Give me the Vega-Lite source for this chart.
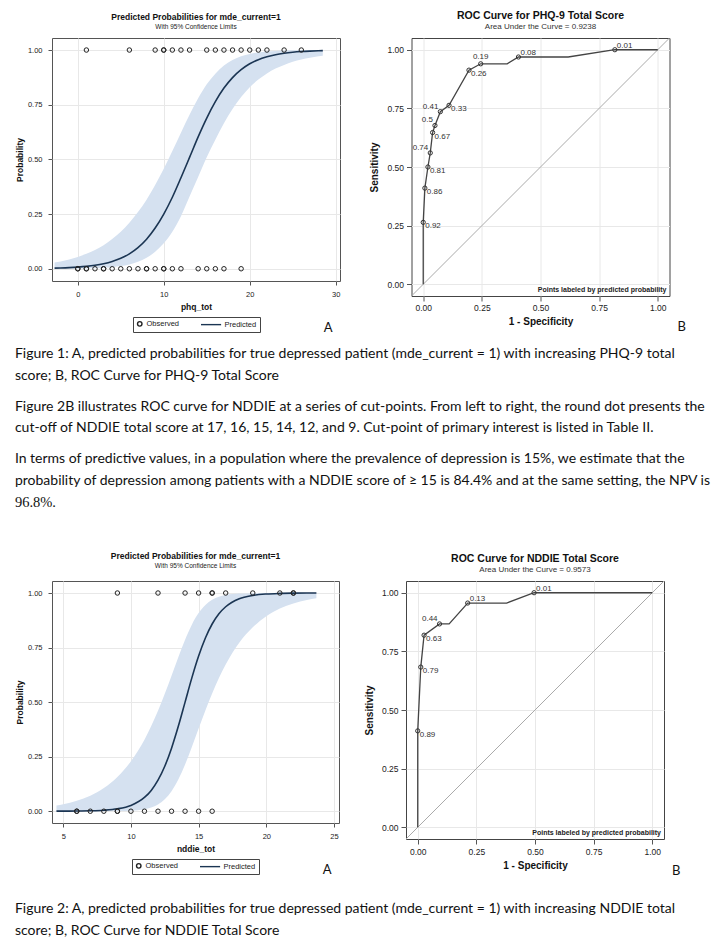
{
  "$schema": "https://vega.github.io/schema/vega-lite/v6.json",
  "background": "white",
  "padding": {"left": 14, "top": 10, "right": 5, "bottom": 0},
  "config": {
    "view": {"stroke": null},
    "font": "Liberation Sans",
    "legend": {"layout": {"bottom": {"anchor": "middle"}}},
    "axis": {"domain": false, "grid": true, "gridColor": "#e8e8e8", "gridWidth": 1, "tickColor": "#555", "tickSize": 5, "labelFont": "Liberation Sans", "labelFontSize": 8.5, "labelColor": "#222", "titleFont": "Liberation Sans", "titleFontSize": 10, "titleFontWeight": "bold", "titleColor": "#111", "labelPadding": 3, "titlePadding": 6}
  },
  "datasets": {
    "curve1": [
      {"phq_tot": -2.7, "pred": 0.0027, "lcl": 0.00025, "ucl": 0.029},
      {"phq_tot": -2, "pred": 0.0035, "lcl": 0.00036, "ucl": 0.0336},
      {"phq_tot": -1, "pred": 0.0051, "lcl": 0.0006, "ucl": 0.0425},
      {"phq_tot": 0, "pred": 0.0075, "lcl": 0.001, "ucl": 0.0539},
      {"phq_tot": 1, "pred": 0.0109, "lcl": 0.0017, "ucl": 0.0681},
      {"phq_tot": 2, "pred": 0.0158, "lcl": 0.0027, "ucl": 0.086},
      {"phq_tot": 3, "pred": 0.0229, "lcl": 0.0045, "ucl": 0.108},
      {"phq_tot": 4, "pred": 0.0332, "lcl": 0.0074, "ucl": 0.1355},
      {"phq_tot": 5, "pred": 0.0477, "lcl": 0.0122, "ucl": 0.169},
      {"phq_tot": 6, "pred": 0.0682, "lcl": 0.0197, "ucl": 0.21},
      {"phq_tot": 7, "pred": 0.0966, "lcl": 0.0317, "ucl": 0.259},
      {"phq_tot": 8, "pred": 0.135, "lcl": 0.05, "ucl": 0.316},
      {"phq_tot": 9, "pred": 0.186, "lcl": 0.0774, "ucl": 0.383},
      {"phq_tot": 10, "pred": 0.25, "lcl": 0.1164, "ucl": 0.457},
      {"phq_tot": 11, "pred": 0.327, "lcl": 0.169, "ucl": 0.538},
      {"phq_tot": 12, "pred": 0.416, "lcl": 0.24, "ucl": 0.622},
      {"phq_tot": 13, "pred": 0.509, "lcl": 0.33, "ucl": 0.704},
      {"phq_tot": 14, "pred": 0.603, "lcl": 0.42, "ucl": 0.779},
      {"phq_tot": 15, "pred": 0.689, "lcl": 0.51, "ucl": 0.843},
      {"phq_tot": 16, "pred": 0.764, "lcl": 0.59, "ucl": 0.892},
      {"phq_tot": 17, "pred": 0.826, "lcl": 0.665, "ucl": 0.929},
      {"phq_tot": 18, "pred": 0.874, "lcl": 0.73, "ucl": 0.954},
      {"phq_tot": 19, "pred": 0.91, "lcl": 0.785, "ucl": 0.971},
      {"phq_tot": 20, "pred": 0.937, "lcl": 0.83, "ucl": 0.982},
      {"phq_tot": 21, "pred": 0.956, "lcl": 0.865, "ucl": 0.989},
      {"phq_tot": 22, "pred": 0.969, "lcl": 0.893, "ucl": 0.9932},
      {"phq_tot": 23, "pred": 0.9787, "lcl": 0.915, "ucl": 0.9959},
      {"phq_tot": 24, "pred": 0.9853, "lcl": 0.932, "ucl": 0.9975},
      {"phq_tot": 25, "pred": 0.9899, "lcl": 0.946, "ucl": 0.9985},
      {"phq_tot": 26, "pred": 0.9931, "lcl": 0.957, "ucl": 0.9991},
      {"phq_tot": 27, "pred": 0.9952, "lcl": 0.965, "ucl": 0.9994},
      {"phq_tot": 28, "pred": 0.9967, "lcl": 0.971, "ucl": 0.9997},
      {"phq_tot": 28.5, "pred": 0.9973, "lcl": 0.974, "ucl": 0.9997}
    ],
    "obs1": [
      {"phq_tot": 1, "mde_current": 1, "series": "Observed"},
      {"phq_tot": 6, "mde_current": 1, "series": "Observed"},
      {"phq_tot": 9, "mde_current": 1, "series": "Observed"},
      {"phq_tot": 10, "mde_current": 1, "series": "Observed"},
      {"phq_tot": 10, "mde_current": 1, "series": "Observed"},
      {"phq_tot": 11, "mde_current": 1, "series": "Observed"},
      {"phq_tot": 12, "mde_current": 1, "series": "Observed"},
      {"phq_tot": 13, "mde_current": 1, "series": "Observed"},
      {"phq_tot": 15, "mde_current": 1, "series": "Observed"},
      {"phq_tot": 16, "mde_current": 1, "series": "Observed"},
      {"phq_tot": 17, "mde_current": 1, "series": "Observed"},
      {"phq_tot": 18, "mde_current": 1, "series": "Observed"},
      {"phq_tot": 19, "mde_current": 1, "series": "Observed"},
      {"phq_tot": 20, "mde_current": 1, "series": "Observed"},
      {"phq_tot": 21, "mde_current": 1, "series": "Observed"},
      {"phq_tot": 22, "mde_current": 1, "series": "Observed"},
      {"phq_tot": 24, "mde_current": 1, "series": "Observed"},
      {"phq_tot": 26, "mde_current": 1, "series": "Observed"},
      {"phq_tot": 0, "mde_current": 0, "series": "Observed"},
      {"phq_tot": 0, "mde_current": 0, "series": "Observed"},
      {"phq_tot": 1, "mde_current": 0, "series": "Observed"},
      {"phq_tot": 1, "mde_current": 0, "series": "Observed"},
      {"phq_tot": 2, "mde_current": 0, "series": "Observed"},
      {"phq_tot": 3, "mde_current": 0, "series": "Observed"},
      {"phq_tot": 3, "mde_current": 0, "series": "Observed"},
      {"phq_tot": 4, "mde_current": 0, "series": "Observed"},
      {"phq_tot": 5, "mde_current": 0, "series": "Observed"},
      {"phq_tot": 6, "mde_current": 0, "series": "Observed"},
      {"phq_tot": 7, "mde_current": 0, "series": "Observed"},
      {"phq_tot": 8, "mde_current": 0, "series": "Observed"},
      {"phq_tot": 8, "mde_current": 0, "series": "Observed"},
      {"phq_tot": 9, "mde_current": 0, "series": "Observed"},
      {"phq_tot": 10, "mde_current": 0, "series": "Observed"},
      {"phq_tot": 10, "mde_current": 0, "series": "Observed"},
      {"phq_tot": 11, "mde_current": 0, "series": "Observed"},
      {"phq_tot": 12, "mde_current": 0, "series": "Observed"},
      {"phq_tot": 14, "mde_current": 0, "series": "Observed"},
      {"phq_tot": 15, "mde_current": 0, "series": "Observed"},
      {"phq_tot": 16, "mde_current": 0, "series": "Observed"},
      {"phq_tot": 17, "mde_current": 0, "series": "Observed"},
      {"phq_tot": 19, "mde_current": 0, "series": "Observed"}
    ],
    "curve2": [
      {"nddie_tot": 4.5, "pred": 0.0002, "lcl": 0.0, "ucl": 0.0259},
      {"nddie_tot": 5, "pred": 0.0003, "lcl": 0.0, "ucl": 0.0318},
      {"nddie_tot": 6, "pred": 0.0007, "lcl": 0.00001, "ucl": 0.0477},
      {"nddie_tot": 7, "pred": 0.0018, "lcl": 0.00004, "ucl": 0.0714},
      {"nddie_tot": 8, "pred": 0.0045, "lcl": 0.0002, "ucl": 0.106},
      {"nddie_tot": 9, "pred": 0.011, "lcl": 0.0007, "ucl": 0.157},
      {"nddie_tot": 10, "pred": 0.0266, "lcl": 0.0025, "ucl": 0.229},
      {"nddie_tot": 11, "pred": 0.063, "lcl": 0.0091, "ucl": 0.328},
      {"nddie_tot": 11.5, "pred": 0.0953, "lcl": 0.0171, "ucl": 0.39},
      {"nddie_tot": 12, "pred": 0.142, "lcl": 0.0311, "ucl": 0.46},
      {"nddie_tot": 12.5, "pred": 0.206, "lcl": 0.0546, "ucl": 0.538},
      {"nddie_tot": 13, "pred": 0.289, "lcl": 0.0917, "ucl": 0.621},
      {"nddie_tot": 13.5, "pred": 0.389, "lcl": 0.145, "ucl": 0.706},
      {"nddie_tot": 14, "pred": 0.5, "lcl": 0.214, "ucl": 0.786},
      {"nddie_tot": 14.5, "pred": 0.611, "lcl": 0.294, "ucl": 0.855},
      {"nddie_tot": 15, "pred": 0.711, "lcl": 0.379, "ucl": 0.908},
      {"nddie_tot": 15.5, "pred": 0.794, "lcl": 0.462, "ucl": 0.945},
      {"nddie_tot": 16, "pred": 0.858, "lcl": 0.54, "ucl": 0.969},
      {"nddie_tot": 16.5, "pred": 0.905, "lcl": 0.61, "ucl": 0.983},
      {"nddie_tot": 17, "pred": 0.937, "lcl": 0.672, "ucl": 0.991},
      {"nddie_tot": 18, "pred": 0.974, "lcl": 0.772, "ucl": 0.9975},
      {"nddie_tot": 19, "pred": 0.989, "lcl": 0.843, "ucl": 0.9993},
      {"nddie_tot": 20, "pred": 0.9955, "lcl": 0.894, "ucl": 0.9998},
      {"nddie_tot": 21, "pred": 0.9982, "lcl": 0.929, "ucl": 1.0},
      {"nddie_tot": 22, "pred": 0.9993, "lcl": 0.952, "ucl": 1.0},
      {"nddie_tot": 23, "pred": 0.9997, "lcl": 0.968, "ucl": 1.0},
      {"nddie_tot": 23.7, "pred": 0.9998, "lcl": 0.976, "ucl": 1.0}
    ],
    "obs2": [
      {"nddie_tot": 9, "mde_current": 1, "series": "Observed"},
      {"nddie_tot": 12, "mde_current": 1, "series": "Observed"},
      {"nddie_tot": 14, "mde_current": 1, "series": "Observed"},
      {"nddie_tot": 15, "mde_current": 1, "series": "Observed"},
      {"nddie_tot": 16, "mde_current": 1, "series": "Observed"},
      {"nddie_tot": 16, "mde_current": 1, "series": "Observed"},
      {"nddie_tot": 17, "mde_current": 1, "series": "Observed"},
      {"nddie_tot": 19, "mde_current": 1, "series": "Observed"},
      {"nddie_tot": 21, "mde_current": 1, "series": "Observed"},
      {"nddie_tot": 22, "mde_current": 1, "series": "Observed"},
      {"nddie_tot": 22, "mde_current": 1, "series": "Observed"},
      {"nddie_tot": 6, "mde_current": 0, "series": "Observed"},
      {"nddie_tot": 6, "mde_current": 0, "series": "Observed"},
      {"nddie_tot": 7, "mde_current": 0, "series": "Observed"},
      {"nddie_tot": 8, "mde_current": 0, "series": "Observed"},
      {"nddie_tot": 9, "mde_current": 0, "series": "Observed"},
      {"nddie_tot": 9, "mde_current": 0, "series": "Observed"},
      {"nddie_tot": 10, "mde_current": 0, "series": "Observed"},
      {"nddie_tot": 11, "mde_current": 0, "series": "Observed"},
      {"nddie_tot": 12, "mde_current": 0, "series": "Observed"},
      {"nddie_tot": 13, "mde_current": 0, "series": "Observed"},
      {"nddie_tot": 14, "mde_current": 0, "series": "Observed"},
      {"nddie_tot": 15, "mde_current": 0, "series": "Observed"},
      {"nddie_tot": 16, "mde_current": 0, "series": "Observed"}
    ],
    "roc1": [
      {"step": 0, "fpr": 0, "sens": 0, "cutoff": null},
      {"step": 1, "fpr": 0, "sens": 0.264, "cutoff": "0.92"},
      {"step": 2, "fpr": 0.007, "sens": 0.41, "cutoff": "0.86"},
      {"step": 3, "fpr": 0.02, "sens": 0.5, "cutoff": "0.81"},
      {"step": 4, "fpr": 0.03, "sens": 0.56, "cutoff": "0.74"},
      {"step": 5, "fpr": 0.04, "sens": 0.647, "cutoff": "0.67"},
      {"step": 6, "fpr": 0.05, "sens": 0.677, "cutoff": "0.5"},
      {"step": 7, "fpr": 0.073, "sens": 0.736, "cutoff": "0.41"},
      {"step": 8, "fpr": 0.11, "sens": 0.763, "cutoff": "0.33"},
      {"step": 9, "fpr": 0.195, "sens": 0.913, "cutoff": "0.26"},
      {"step": 10, "fpr": 0.245, "sens": 0.94, "cutoff": "0.19"},
      {"step": 11, "fpr": 0.358, "sens": 0.94, "cutoff": null},
      {"step": 12, "fpr": 0.406, "sens": 0.969, "cutoff": "0.08"},
      {"step": 13, "fpr": 0.618, "sens": 0.969, "cutoff": null},
      {"step": 14, "fpr": 0.817, "sens": 1.0, "cutoff": "0.01"},
      {"step": 15, "fpr": 1.0, "sens": 1.0, "cutoff": null}
    ],
    "roc2": [
      {"step": 0, "fpr": 0, "sens": 0, "cutoff": null},
      {"step": 1, "fpr": 0, "sens": 0.411, "cutoff": "0.89"},
      {"step": 2, "fpr": 0.013, "sens": 0.683, "cutoff": "0.79"},
      {"step": 3, "fpr": 0.027, "sens": 0.819, "cutoff": "0.63"},
      {"step": 4, "fpr": 0.093, "sens": 0.867, "cutoff": "0.44"},
      {"step": 5, "fpr": 0.134, "sens": 0.867, "cutoff": null},
      {"step": 6, "fpr": 0.213, "sens": 0.956, "cutoff": "0.13"},
      {"step": 7, "fpr": 0.379, "sens": 0.956, "cutoff": null},
      {"step": 8, "fpr": 0.496, "sens": 1.0, "cutoff": "0.01"},
      {"step": 9, "fpr": 1.0, "sens": 1.0, "cutoff": null}
    ],
    "diag": [
      {"fpr": -0.05, "sens": -0.05},
      {"fpr": 1.05, "sens": 1.05}
    ],
    "note": [{"note": "Points labeled by predicted probability"}]
  },
  "spacing": 41,
  "vconcat": [
    {
      "title": {"text": ["In terms of predictive values, in a population where the prevalence of depression is 15%, we estimate that the", "probability of depression among patients with a NDDIE score of ≥ 15 is 84.4% and at the same setting, the NPV is"], "subtitle": "96.8%.", "orient": "bottom", "anchor": "start", "frame": "bounds", "baseline": "top", "font": "Lato", "fontSize": 14, "fontWeight": "normal", "color": "#111", "lineHeight": 21.7, "offset": 17, "subtitleFont": "Liberation Serif", "subtitleFontSize": 14.5, "subtitleColor": "#111", "subtitlePadding": 8},
      "vconcat": [
        {
          "title": {"text": ["Figure 2B illustrates ROC curve for  NDDIE at a series of cut-points.  From left to right, the round dot presents the", "cut-off of NDDIE total score at 17, 16, 15, 14, 12, and 9.  Cut-point of primary interest is listed in Table II."], "orient": "bottom", "anchor": "start", "frame": "bounds", "baseline": "top", "font": "Lato", "fontSize": 14, "fontWeight": "normal", "color": "#111", "lineHeight": 21.7, "offset": 17},
          "vconcat": [
            {
              "title": {"text": [" Figure 1: A, predicted probabilities for true depressed patient (mde_current = 1) with increasing PHQ-9 total", "score; B, ROC Curve for PHQ-9 Total Score"], "orient": "bottom", "anchor": "start", "frame": "bounds", "baseline": "top", "font": "Lato", "fontSize": 14, "fontWeight": "normal", "color": "#111", "lineHeight": 21.7, "offset": 12},
              "spacing": 27.5,
              "hconcat": [
                {
                  "title": {"text": "A", "orient": "bottom", "anchor": "end", "font": "Lato", "fontSize": 13, "fontWeight": "normal", "color": "#111", "offset": -11, "dx": -8},
                  "resolve": {"scale": {"color": "independent", "shape": "independent"}, "legend": {"color": "independent", "shape": "independent"}},
                  "vconcat": [
                    {
                      "width": 288, "height": 243,
                      "view": {"stroke": "#555"},
                      "title": {"text": "Predicted Probabilities for mde_current=1", "subtitle": "With 95% Confidence Limits", "fontSize": 8.5, "fontWeight": "bold", "color": "#111", "subtitleFontSize": 6.5, "subtitleColor": "#222", "subtitlePadding": 2, "offset": 8},
                      "layer": [
                        {
                          "data": {"name": "curve1"},
                          "mark": {"type": "area", "color": "#d5e1f0", "opacity": 1, "interpolate": "monotone"},
                          "encoding": {
                            "x": {"field": "phq_tot", "type": "quantitative", "scale": {"domain": [-3, 30.5], "nice": false, "zero": false}, "axis": {"values": [0, 10, 20, 30], "title": "phq_tot", "labelFontSize": 7.5, "titleFontSize": 8.5, "tickSize": 4, "labelPadding": 5, "titlePadding": 5}},
                            "y": {"field": "lcl", "type": "quantitative", "scale": {"domain": [-0.056, 1.055], "nice": false, "zero": false}, "axis": {"values": [0, 0.25, 0.5, 0.75, 1], "format": ".2f", "title": "Probability", "labelFontSize": 7.5, "titleFontSize": 8.5, "tickSize": 4, "labelPadding": 6, "titlePadding": 3}},
                            "y2": {"field": "ucl"}
                          }
                        },
                        {
                          "data": {"name": "curve1"},
                          "mark": {"type": "line", "color": "#1b3553", "strokeWidth": 1.6, "interpolate": "monotone"},
                          "encoding": {
                            "x": {"field": "phq_tot", "type": "quantitative"},
                            "y": {"field": "pred", "type": "quantitative"}
                          }
                        },
                        {
                          "data": {"name": "obs1"},
                          "mark": {"type": "point", "filled": false, "size": 20, "strokeWidth": 1, "opacity": 1},
                          "encoding": {
                            "x": {"field": "phq_tot", "type": "quantitative"},
                            "y": {"field": "mde_current", "type": "quantitative"},
                            "shape": {"field": "series", "type": "nominal", "scale": {"domain": ["Observed", "Predicted"], "range": ["circle", "M-7.5,0H1.5"]}, "legend": {"orient": "bottom", "direction": "horizontal", "title": null, "strokeColor": "#444", "padding": 3, "labelFontSize": 7.5, "labelColor": "#222", "symbolStrokeWidth": 1.4, "symbolSize": 20, "columnPadding": 18, "offset": 6, "labelOffset": 3}},
                            "color": {"field": "series", "type": "nominal", "scale": {"domain": ["Observed", "Predicted"], "range": ["#222222", "#1b3553"]}, "legend": {"orient": "bottom", "direction": "horizontal", "title": null, "strokeColor": "#444", "padding": 3, "labelFontSize": 7.5, "labelColor": "#222", "symbolStrokeWidth": 1.4, "symbolSize": 20, "columnPadding": 18, "offset": 6, "labelOffset": 3}}
                          }
                        }
                      ]
                    }
                  ]
                },
                {
                  "title": {"text": "B", "orient": "bottom", "anchor": "end", "font": "Lato", "fontSize": 13, "fontWeight": "normal", "color": "#111", "offset": -6, "dx": 14},
                  "vconcat": [
                    {
                      "width": 258, "height": 258,
                      "view": {"stroke": "#444"},
                      "title": {"text": "ROC Curve for PHQ-9 Total Score", "subtitle": "Area Under the Curve = 0.9238", "fontSize": 10.5, "fontWeight": "bold", "color": "#111", "subtitleFontSize": 8, "subtitleColor": "#333", "subtitlePadding": 2, "offset": 5},
                      "layer": [
                        {
                          "data": {"name": "diag"},
                          "mark": {"type": "line", "color": "#aaaaaa", "strokeWidth": 1},
                          "encoding": {
                            "x": {"field": "fpr", "type": "quantitative", "scale": {"domain": [-0.05, 1.05], "nice": false, "zero": false}, "axis": {"values": [0, 0.25, 0.5, 0.75, 1], "format": ".2f", "title": "1 - Specificity", "labelPadding": 2, "titlePadding": 5}},
                            "y": {"field": "sens", "type": "quantitative", "scale": {"domain": [-0.05, 1.05], "nice": false, "zero": false}, "axis": {"values": [0, 0.25, 0.5, 0.75, 1], "format": ".2f", "title": "Sensitivity", "labelPadding": 3, "titlePadding": 7}}
                          }
                        },
                        {
                          "data": {"name": "roc1"},
                          "mark": {"type": "line", "color": "#444", "strokeWidth": 1.3},
                          "encoding": {"x": {"field": "fpr", "type": "quantitative"}, "y": {"field": "sens", "type": "quantitative"}, "order": {"field": "step"}}
                        },
                        {
                          "data": {"name": "roc1"},
                          "transform": [{"filter": "datum.cutoff != null"}],
                          "mark": {"type": "point", "filled": false, "size": 18, "color": "#333", "strokeWidth": 1, "opacity": 1},
                          "encoding": {"x": {"field": "fpr", "type": "quantitative"}, "y": {"field": "sens", "type": "quantitative"}}
                        },
                        {
                          "data": {"name": "roc1"},
                          "transform": [{"filter": {"field": "cutoff", "oneOf": ["0.92", "0.86", "0.81", "0.67", "0.33", "0.26"]}}],
                          "mark": {"type": "text", "align": "left", "baseline": "top", "dx": 2, "dy": 0, "fontSize": 8, "color": "#333"},
                          "encoding": {"x": {"field": "fpr", "type": "quantitative"}, "y": {"field": "sens", "type": "quantitative"}, "text": {"field": "cutoff"}}
                        },
                        {
                          "data": {"name": "roc1"},
                          "transform": [{"filter": {"field": "cutoff", "oneOf": ["0.74", "0.5", "0.41"]}}],
                          "mark": {"type": "text", "align": "right", "baseline": "bottom", "dx": -2, "dy": -1, "fontSize": 8, "color": "#333"},
                          "encoding": {"x": {"field": "fpr", "type": "quantitative"}, "y": {"field": "sens", "type": "quantitative"}, "text": {"field": "cutoff"}}
                        },
                        {
                          "data": {"name": "roc1"},
                          "transform": [{"filter": {"field": "cutoff", "oneOf": ["0.08", "0.01"]}}],
                          "mark": {"type": "text", "align": "left", "baseline": "bottom", "dx": 2, "dy": 0, "fontSize": 8, "color": "#333"},
                          "encoding": {"x": {"field": "fpr", "type": "quantitative"}, "y": {"field": "sens", "type": "quantitative"}, "text": {"field": "cutoff"}}
                        },
                        {
                          "data": {"name": "roc1"},
                          "transform": [{"filter": {"field": "cutoff", "oneOf": ["0.19"]}}],
                          "mark": {"type": "text", "align": "center", "baseline": "bottom", "dx": 0, "dy": -3, "fontSize": 8, "color": "#333"},
                          "encoding": {"x": {"field": "fpr", "type": "quantitative"}, "y": {"field": "sens", "type": "quantitative"}, "text": {"field": "cutoff"}}
                        },
                        {
                          "data": {"name": "note"},
                          "mark": {"type": "text", "align": "right", "baseline": "bottom", "dx": -3, "dy": -3, "fontSize": 7, "fontWeight": "bold", "color": "#222"},
                          "encoding": {"x": {"datum": 1.05, "type": "quantitative"}, "y": {"datum": -0.05, "type": "quantitative"}, "text": {"field": "note"}}
                        }
                      ]
                    }
                  ]
                }
              ]
            }
          ]
        }
      ]
    },
    {
      "title": {"text": ["Figure 2: A, predicted probabilities for true depressed patient (mde_current = 1) with increasing NDDIE total", "score; B, ROC Curve for NDDIE Total Score"], "orient": "bottom", "anchor": "start", "frame": "bounds", "baseline": "top", "font": "Lato", "fontSize": 14, "fontWeight": "normal", "color": "#111", "lineHeight": 21.7, "offset": 24},
      "spacing": 23,
      "hconcat": [
        {
          "title": {"text": "A", "orient": "bottom", "anchor": "end", "font": "Lato", "fontSize": 13, "fontWeight": "normal", "color": "#111", "offset": -11, "dx": -8},
          "resolve": {"scale": {"color": "independent", "shape": "independent"}, "legend": {"color": "independent", "shape": "independent"}},
          "vconcat": [
            {
              "width": 287, "height": 242,
              "view": {"stroke": "#555"},
              "title": {"text": "Predicted Probabilities for mde_current=1", "subtitle": "With 95% Confidence Limits", "fontSize": 8.5, "fontWeight": "bold", "color": "#111", "subtitleFontSize": 6.5, "subtitleColor": "#222", "subtitlePadding": 2, "offset": 12},
              "layer": [
                {
                  "data": {"name": "curve2"},
                  "mark": {"type": "area", "color": "#d5e1f0", "opacity": 1, "interpolate": "monotone"},
                  "encoding": {
                    "x": {"field": "nddie_tot", "type": "quantitative", "scale": {"domain": [4.17, 25.37], "nice": false, "zero": false}, "axis": {"values": [5, 10, 15, 20, 25], "title": "nddie_tot", "labelFontSize": 7.5, "titleFontSize": 8.5, "tickSize": 4, "labelPadding": 5, "titlePadding": 5}},
                    "y": {"field": "lcl", "type": "quantitative", "scale": {"domain": [-0.054, 1.055], "nice": false, "zero": false}, "axis": {"values": [0, 0.25, 0.5, 0.75, 1], "format": ".2f", "title": "Probability", "labelFontSize": 7.5, "titleFontSize": 8.5, "tickSize": 4, "labelPadding": 6, "titlePadding": 3}},
                    "y2": {"field": "ucl"}
                  }
                },
                {
                  "data": {"name": "curve2"},
                  "mark": {"type": "line", "color": "#1b3553", "strokeWidth": 1.6, "interpolate": "monotone"},
                  "encoding": {
                    "x": {"field": "nddie_tot", "type": "quantitative"},
                    "y": {"field": "pred", "type": "quantitative"}
                  }
                },
                {
                  "data": {"name": "obs2"},
                  "mark": {"type": "point", "filled": false, "size": 20, "strokeWidth": 1, "opacity": 1},
                  "encoding": {
                    "x": {"field": "nddie_tot", "type": "quantitative"},
                    "y": {"field": "mde_current", "type": "quantitative"},
                    "shape": {"field": "series", "type": "nominal", "scale": {"domain": ["Observed", "Predicted"], "range": ["circle", "M-7.5,0H1.5"]}, "legend": {"orient": "bottom", "direction": "horizontal", "title": null, "strokeColor": "#444", "padding": 3, "labelFontSize": 7.5, "labelColor": "#222", "symbolStrokeWidth": 1.4, "symbolSize": 20, "columnPadding": 18, "offset": 6, "labelOffset": 3}},
                    "color": {"field": "series", "type": "nominal", "scale": {"domain": ["Observed", "Predicted"], "range": ["#222222", "#1b3553"]}, "legend": {"orient": "bottom", "direction": "horizontal", "title": null, "strokeColor": "#444", "padding": 3, "labelFontSize": 7.5, "labelColor": "#222", "symbolStrokeWidth": 1.4, "symbolSize": 20, "columnPadding": 18, "offset": 6, "labelOffset": 3}}
                  }
                }
              ]
            }
          ]
        },
        {
          "title": {"text": "B", "orient": "bottom", "anchor": "end", "font": "Lato", "fontSize": 13, "fontWeight": "normal", "color": "#111", "offset": -6, "dx": 14},
          "vconcat": [
            {
              "width": 258, "height": 258,
              "view": {"stroke": "#444"},
              "title": {"text": "ROC Curve for NDDIE Total Score", "subtitle": "Area Under the Curve = 0.9573", "fontSize": 10.5, "fontWeight": "bold", "color": "#111", "subtitleFontSize": 8, "subtitleColor": "#333", "subtitlePadding": 2, "offset": 5},
              "layer": [
                {
                  "data": {"name": "diag"},
                  "mark": {"type": "line", "color": "#aaaaaa", "strokeWidth": 1},
                  "encoding": {
                    "x": {"field": "fpr", "type": "quantitative", "scale": {"domain": [-0.05, 1.05], "nice": false, "zero": false}, "axis": {"values": [0, 0.25, 0.5, 0.75, 1], "format": ".2f", "title": "1 - Specificity", "labelPadding": 3, "titlePadding": 5}},
                    "y": {"field": "sens", "type": "quantitative", "scale": {"domain": [-0.05, 1.05], "nice": false, "zero": false}, "axis": {"values": [0, 0.25, 0.5, 0.75, 1], "format": ".2f", "title": "Sensitivity", "labelPadding": 3, "titlePadding": 7}}
                  }
                },
                {
                  "data": {"name": "roc2"},
                  "mark": {"type": "line", "color": "#444", "strokeWidth": 1.3},
                  "encoding": {"x": {"field": "fpr", "type": "quantitative"}, "y": {"field": "sens", "type": "quantitative"}, "order": {"field": "step"}}
                },
                {
                  "data": {"name": "roc2"},
                  "transform": [{"filter": "datum.cutoff != null"}],
                  "mark": {"type": "point", "filled": false, "size": 18, "color": "#333", "strokeWidth": 1, "opacity": 1},
                  "encoding": {"x": {"field": "fpr", "type": "quantitative"}, "y": {"field": "sens", "type": "quantitative"}}
                },
                {
                  "data": {"name": "roc2"},
                  "transform": [{"filter": {"field": "cutoff", "oneOf": ["0.89", "0.79", "0.63"]}}],
                  "mark": {"type": "text", "align": "left", "baseline": "top", "dx": 2, "dy": 0, "fontSize": 8, "color": "#333"},
                  "encoding": {"x": {"field": "fpr", "type": "quantitative"}, "y": {"field": "sens", "type": "quantitative"}, "text": {"field": "cutoff"}}
                },
                {
                  "data": {"name": "roc2"},
                  "transform": [{"filter": {"field": "cutoff", "oneOf": ["0.44"]}}],
                  "mark": {"type": "text", "align": "right", "baseline": "bottom", "dx": -2, "dy": -1, "fontSize": 8, "color": "#333"},
                  "encoding": {"x": {"field": "fpr", "type": "quantitative"}, "y": {"field": "sens", "type": "quantitative"}, "text": {"field": "cutoff"}}
                },
                {
                  "data": {"name": "roc2"},
                  "transform": [{"filter": {"field": "cutoff", "oneOf": ["0.13", "0.01"]}}],
                  "mark": {"type": "text", "align": "left", "baseline": "bottom", "dx": 2, "dy": 0, "fontSize": 8, "color": "#333"},
                  "encoding": {"x": {"field": "fpr", "type": "quantitative"}, "y": {"field": "sens", "type": "quantitative"}, "text": {"field": "cutoff"}}
                },
                {
                  "data": {"name": "note"},
                  "mark": {"type": "text", "align": "right", "baseline": "bottom", "dx": -3, "dy": -3, "fontSize": 7, "fontWeight": "bold", "color": "#222"},
                  "encoding": {"x": {"datum": 1.05, "type": "quantitative"}, "y": {"datum": -0.05, "type": "quantitative"}, "text": {"field": "note"}}
                }
              ]
            }
          ]
        }
      ]
    }
  ]
}
